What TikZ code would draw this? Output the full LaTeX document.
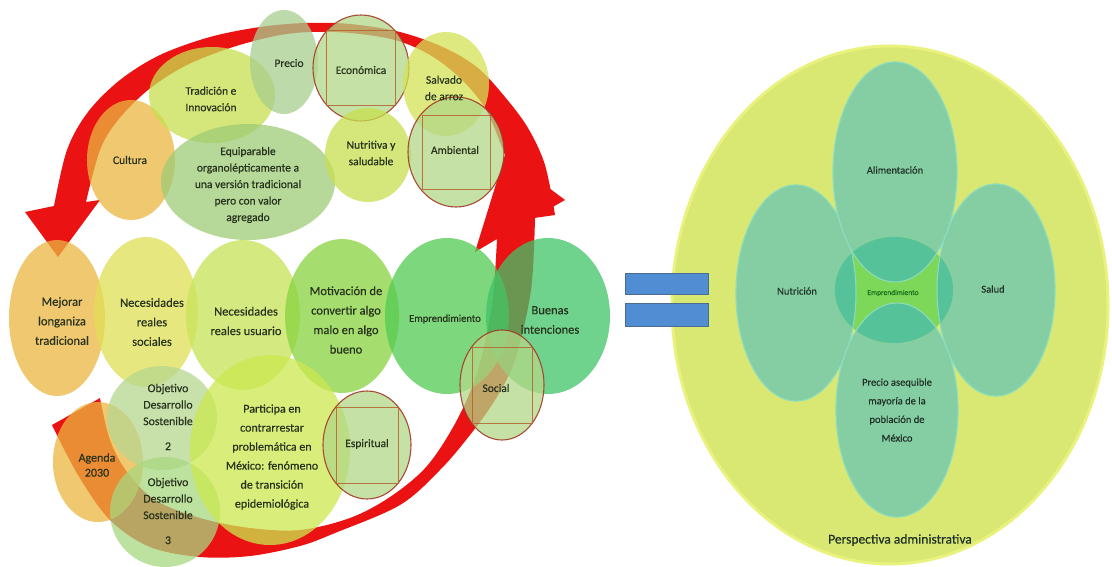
\documentclass[tikz,border=0pt]{standalone}
\usepackage{fontspec}
\setmainfont{Carlito}
\newfontfamily\heavyfont{Carlito}[FakeBold=0.35]
\usetikzlibrary{shapes.geometric}

\definecolor{arrowred}{HTML}{EA1212}
\definecolor{txt}{HTML}{27321C}
\definecolor{cOrange}{HTML}{EBB640}
\definecolor{cYellow}{HTML}{E0E056}
\definecolor{cLime}{HTML}{C6E458}
\definecolor{cGreenA}{HTML}{87D340}
\definecolor{cGreenB}{HTML}{52CA52}
\definecolor{cGreenC}{HTML}{40C368}
\definecolor{cYG}{HTML}{C8E04E}
\definecolor{cSage}{HTML}{A8CE8E}
\definecolor{cFrame}{HTML}{B3D787}
\definecolor{cSalv}{HTML}{D3E356}
\definecolor{cEqui}{HTML}{9ECB76}
\definecolor{cOdsA}{HTML}{B6D790}
\definecolor{cOdsB}{HTML}{A8D780}
\definecolor{cPart}{HTML}{CBE84E}
\definecolor{frameRed}{HTML}{A33A28}
\definecolor{sqBrown}{HTML}{B4632F}
\definecolor{bigYellow}{HTML}{D9E773}
\definecolor{rimYellow}{HTML}{E8F27C}
\definecolor{petal}{HTML}{85CEA3}
\definecolor{petalRim}{HTML}{8BDDBD}
\definecolor{petalDeep}{HTML}{55C29A}
\definecolor{coreGreen}{HTML}{7DD85A}
\definecolor{eqBlue}{HTML}{518DD3}
\definecolor{eqEdge}{HTML}{4A6D8F}
\definecolor{darkTxt}{HTML}{1F3026}

\begin{document}
\begin{tikzpicture}[x=1pt, y=-1pt,
  bubble/.style={ellipse, inner sep=0pt, draw=none, fill opacity=0.75},
  ring/.style={bubble, draw=frameRed, line width=1.1pt, draw opacity=0.9},
  sqbox/.style={rectangle, inner sep=0pt, draw=sqBrown, line width=0.9pt, draw opacity=0.85},
  topt/.style={align=center, text=txt, font=\heavyfont\fontsize{11.5}{16.5}\selectfont},
  midt/.style={align=center, text=txt, font=\heavyfont\fontsize{12.5}{19.5}\selectfont},
  bott/.style={align=center, text=txt, font=\heavyfont\fontsize{12}{19}\selectfont},
  odst/.style={align=center, text=txt, font=\heavyfont\fontsize{11.8}{16.5}\selectfont},
  petalnode/.style={ellipse, inner sep=0pt, fill=petal, draw=petalRim, line width=1.2pt},
  rtxt/.style={align=center, text=darkTxt, font=\heavyfont\fontsize{10.5}{18.6}\selectfont},
  eqbar/.style={rectangle, inner sep=0pt, fill=eqBlue, draw=eqEdge, line width=0.8pt, minimum width=83pt}]

\fill[white] (0,0) rectangle (1112,567);
\useasboundingbox (0,0) rectangle (1112,567);

% ---------- circular arrows ----------
% upper arc, pointing down to the left
\fill[arrowred] (25,212) -- (58,257) -- (100,200) -- (86,202)
  -- plot[smooth, tension=0.55] coordinates {(86,202) (100,150) (118,120) (148,90) (185,66) (230,48) (275,36) (310,32) (350,33) (395,40) (430,55) (460,78) (485,108) (503,150) (515,185) (520,220)}
  -- (555,215)
  -- plot[smooth, tension=0.55] coordinates {(555,215) (545,165) (528,128) (505,97) (478,68) (445,48) (400,32) (350,24) (305,23) (260,27) (210,37) (160,55) (120,80) (88,112) (67,150) (54,206)}
  -- cycle;
% lower arc, pointing up on the right
\fill[arrowred] (52,425) -- (100,398)
  -- plot[smooth, tension=0.55] coordinates {(100,398) (110,440) (127,472) (155,500) (200,518) (250,528) (300,530) (350,518) (390,497) (427,466) (457,420) (478,370) (492,305) (497,239)}
  -- (475,252) -- (505,155) -- (565,200) -- (535,217)
  -- plot[smooth, tension=0.55] coordinates {(535,217) (531,290) (515,360) (495,400) (470,435) (440,470) (400,505) (335,533) (300,546) (250,556) (200,557) (150,547) (110,520) (78,475) (52,425)}
  -- cycle;

% ---------- upper cluster ----------
\node[bubble, fill=cOrange, minimum width=88pt, minimum height=120pt] (cultura) at (131,160) {};
\node[bubble, fill=cYG, minimum width=126pt, minimum height=96pt] (tradicion) at (212,95) {};
\node[bubble, fill=cSage, minimum width=68pt, minimum height=104pt] (precio) at (284,62) {};
\node[ring, fill=cFrame, minimum width=96pt, minimum height=106pt] (economica) at (361,68) {};
\node[sqbox, minimum width=69pt, minimum height=75pt] (economicaSq) at (economica.center) {};
\node[bubble, fill=cSalv, minimum width=86pt, minimum height=104pt] (salvado) at (446,84) {};
\node[bubble, fill=cEqui, minimum width=174pt, minimum height=116pt] (equiparable) at (248,182) {};
\node[bubble, fill=cYG, minimum width=86pt, minimum height=94pt] (nutritiva) at (368,155) {};
\node[ring, fill=cFrame, minimum width=96pt, minimum height=110pt] (ambiental) at (456,152) {};
\node[sqbox, minimum width=68pt, minimum height=74pt] (ambientalSq) at (ambiental.center) {};

% ---------- middle row ----------
\node[bubble, fill=cOrange, minimum width=96pt, minimum height=156pt] (mejorar) at (57,318) {};
\node[bubble, fill=cYellow, minimum width=104pt, minimum height=150pt] (necSoc) at (146,312) {};
\node[bubble, fill=cLime, minimum width=114pt, minimum height=150pt] (necUsu) at (243,315) {};
\node[bubble, fill=cGreenA, minimum width=114pt, minimum height=154pt] (motivacion) at (342,316) {};
\node[bubble, fill=cGreenB, minimum width=124pt, minimum height=156pt] (emprendeL) at (447,316) {};
\node[bubble, fill=cGreenC, minimum width=124pt, minimum height=156pt] (buenas) at (548,316) {};

% ---------- lower cluster ----------
\node[bubble, fill=cOrange, minimum width=90pt, minimum height=120pt] (agenda) at (98,462) {};
\node[bubble, fill=cOdsA, minimum width=110pt, minimum height=104pt] (odsDos) at (162,418) {};
\node[bubble, fill=cOdsB, minimum width=110pt, minimum height=110pt] (odsTres) at (165,512) {};
\node[bubble, fill=cPart, minimum width=160pt, minimum height=190pt] (participa) at (270,450) {};
\node[ring, fill=cFrame, minimum width=88pt, minimum height=108pt] (espiritual) at (367,445) {};
\node[sqbox, minimum width=62pt, minimum height=76pt] (espiritualSq) at (espiritual.center) {};
\node[ring, fill=cFrame, minimum width=84pt, minimum height=110pt] (social) at (502,385) {};
\node[sqbox, minimum width=60pt, minimum height=76pt] (socialSq) at (social.center) {};

% ---------- labels, left part ----------
\node[topt] (tTradicion) at (211,99) {Tradición e\\Innovación};
\node[topt] (tPrecio) at (289,63) {Precio};
\node[topt] (tEconomica) at (361,70) {Económica};
\node[topt] (tSalvado) at (444,88) {Salvado\\de arroz};
\node[topt] (tCultura) at (130,160) {Cultura};
\node[topt] (tEquiparable) at (248,185) {Equiparable\\organolépticamente a\\una versión tradicional\\pero con valor\\agregado};
\node[topt] (tNutritiva) at (371,153) {Nutritiva y\\saludable};
\node[topt] (tAmbiental) at (455,150) {Ambiental};

\node[midt] (tMejorar) at (62,321) {Mejorar\\longaniza\\tradicional};
\node[midt] (tNecSoc) at (152,322) {Necesidades\\reales\\sociales};
\node[midt] (tNecUsu) at (246,321) {Necesidades\\reales usuario};
\node[midt] (tMotivacion) at (346,320) {Motivación de\\convertir algo\\malo en algo\\bueno};
\node[align=center, text=txt, font=\heavyfont\fontsize{10.5}{14}\selectfont] (tEmprendeL) at (445,319) {Emprendimiento};
\node[midt] (tBuenas) at (550,320) {Buenas\\intenciones};

\node[odst] (tOdsDos) at (168,417) {Objetivo\\Desarrollo\\Sostenible\\[8.5pt]2};
\node[align=center, text=txt, font=\heavyfont\fontsize{12}{15}\selectfont] (tAgenda) at (97,465) {Agenda\\2030};
\node[odst] (tOdsTres) at (168,511) {Objetivo\\Desarrollo\\Sostenible\\[8.5pt]3};
\node[bott] (tParticipa) at (272,457) {Participa en\\contrarrestar\\problemática en\\México: fenómeno\\de transición\\epidemiológica};
\node[topt] (tEspiritual) at (367,444) {Espiritual};
\node[topt] (tSocial) at (496,388) {Social};

% ---------- administrative perspective ----------
\node[ellipse, inner sep=0pt, fill=bigYellow, draw=rimYellow, line width=3pt, minimum width=436pt, minimum height=518pt] (admin) at (890,305) {};
\node[petalnode, minimum width=120pt, minimum height=216pt] (pNut) at (796,293) {};
\node[petalnode, minimum width=118pt, minimum height=212pt] (pSal) at (996,290) {};
\node[petalnode, minimum width=124pt, minimum height=220pt] (pAli) at (895,172) {};
\node[petalnode, minimum width=122pt, minimum height=214pt] (pPre) at (897,410) {};

% central disc: bright where no petal covers it
\begin{scope}
  \clip (894,290) ellipse [x radius=59, y radius=53];
  \fill[coreGreen] (830,230) rectangle (960,350);
  \filldraw[fill=petalDeep, draw=petalRim, line width=1pt] (796,293) ellipse [x radius=60, y radius=108];
  \filldraw[fill=petalDeep, draw=petalRim, line width=1pt] (996,290) ellipse [x radius=59, y radius=106];
  \filldraw[fill=petalDeep, draw=petalRim, line width=1pt] (895,172) ellipse [x radius=62, y radius=110];
  \filldraw[fill=petalDeep, draw=petalRim, line width=1pt] (897,410) ellipse [x radius=61, y radius=107];
\end{scope}

\node[rtxt] (tAli) at (895,170) {Alimentación};
\node[rtxt] (tNut) at (797,291) {Nutrición};
\node[rtxt] (tSal) at (993,289) {Salud};
\node[align=center, text=darkTxt!70!green, font=\heavyfont\fontsize{7.5}{9}\selectfont] (tCore) at (893,293) {Emprendimiento};
\node[rtxt] (tPre) at (897,410) {Precio asequible\\mayoría de la\\población de\\México};
\node[align=center, text=darkTxt, font=\heavyfont\fontsize{13.5}{16}\selectfont] (tAdmin) at (900,540) {Perspectiva administrativa};

% ---------- equals sign, lying over the rim of the large disc ----------
\node[eqbar, minimum height=21pt] (eqTop) at (666.5,283.5) {};
\node[eqbar, minimum height=23pt] (eqBot) at (666.5,314.5) {};

\end{tikzpicture}
\end{document}
